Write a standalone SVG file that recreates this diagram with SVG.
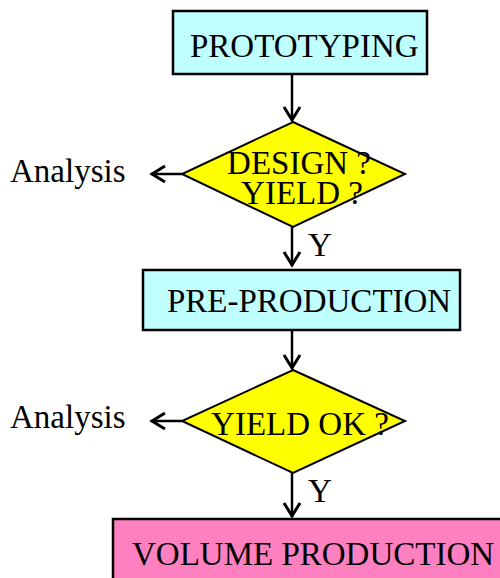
<svg xmlns="http://www.w3.org/2000/svg" width="500" height="578" viewBox="0 0 500 578">
<defs>
<style>
text{font-family:"Liberation Serif","Times New Roman",serif;font-size:33px;fill:#000}
.box{stroke:#000;stroke-width:2.5}
.cyan{fill:#C0FFFF}
.pink{fill:#FF80C0}
.dia{fill:#FFFF00;stroke:#000;stroke-width:2}
.con{stroke:#000;stroke-width:2.5;fill:none}
.mid{text-anchor:middle}
</style>
<marker id="arr" markerUnits="userSpaceOnUse" markerWidth="24" markerHeight="24" refX="20" refY="12" orient="auto" viewBox="0 0 24 24">
<path d="M6,4 L19,12 L6,20" fill="none" stroke="#000" stroke-width="3"/>
</marker>
</defs>
<g id="connectors">
<line class="con" x1="292" y1="74" x2="292" y2="121" marker-end="url(#arr)"/>
<line class="con" x1="182" y1="174" x2="151" y2="174" marker-end="url(#arr)"/>
<line class="con" x1="292" y1="227" x2="292" y2="266" marker-end="url(#arr)"/>
<text x="308" y="256">Y</text>
<line class="con" x1="292" y1="330" x2="292" y2="369" marker-end="url(#arr)"/>
<line class="con" x1="182" y1="421" x2="151" y2="421" marker-end="url(#arr)"/>
<line class="con" x1="292" y1="473" x2="292" y2="517" marker-end="url(#arr)"/>
<text x="308" y="502">Y</text>
</g>
<g id="prototyping">
<rect class="box cyan" x="173" y="11" width="254" height="63"/>
<text x="190" y="57">PROTOTYPING</text>
</g>
<g id="design-yield">
<polygon class="dia" points="293,122 405,174 293,227 182,174"/>
<text class="mid" x="299" y="174">DESIGN ?</text>
<text class="mid" x="302" y="204">YIELD ?</text>
</g>
<g id="analysis1">
<text x="10" y="182">Analysis</text>
</g>
<g id="pre-production">
<rect class="box cyan" x="143" y="270" width="317" height="60"/>
<text x="167" y="312">PRE-PRODUCTION</text>
</g>
<g id="yield-ok">
<polygon class="dia" points="293,370 405,421 293,473 182,421"/>
<text class="mid" x="300" y="435">YIELD OK ?</text>
</g>
<g id="analysis2">
<text x="10" y="428">Analysis</text>
</g>
<g id="volume-production">
<rect class="box pink" x="113" y="519" width="400" height="70"/>
<text x="132" y="565">VOLUME PRODUCTION</text>
</g>
</svg>
